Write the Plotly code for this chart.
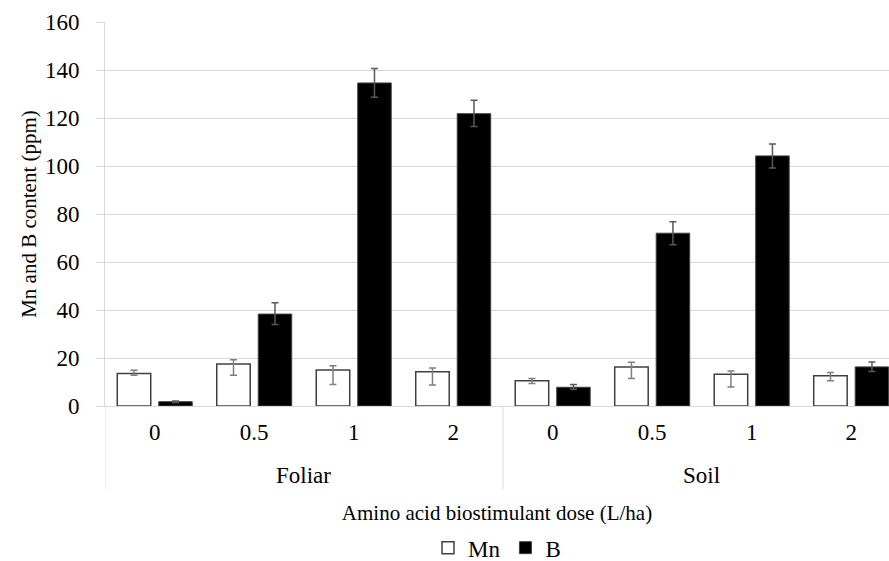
import plotly.graph_objects as go

groups = ["Foliar"] * 4 + ["Soil"] * 4
doses = ["0", "0.5", "1", "2"] * 2

mn_values = [13.5, 17.5, 15.0, 14.3, 10.5, 16.3, 13.2, 12.6]
mn_err_plus = [1.4, 1.8, 1.8, 1.5, 1.0, 1.9, 1.4, 1.4]
mn_err_minus = [0.7, 4.7, 6.0, 5.5, 1.1, 4.8, 5.3, 2.1]

b_values = [1.8, 38.3, 134.6, 121.8, 7.8, 72.0, 104.2, 16.3]
b_err_plus = [0.3, 4.7, 6.0, 5.6, 1.2, 4.8, 5.0, 2.0]
b_err_minus = [0.3, 4.3, 6.0, 5.3, 0.8, 4.8, 5.0, 1.9]

y_ticks = [0, 20, 40, 60, 80, 100, 120, 140, 160]

FONT = "Liberation Serif, Times New Roman, serif"
GRID = "#d9d9d9"

# unique category keys, labelled by dose
keys = [f"{g}|{d}" for g, d in zip(groups, doses)]
group_names = list(dict.fromkeys(groups))

fig = go.Figure()
fig.add_trace(go.Bar(
    x=keys, y=mn_values, name="Mn",
    marker=dict(color="white", line=dict(color="#404040", width=1.5)),
    error_y=dict(type="data", symmetric=False, array=mn_err_plus, arrayminus=mn_err_minus,
                 color="#7f7f7f", thickness=1.5, width=3.5),
))
fig.add_trace(go.Bar(
    x=keys, y=b_values, name="B",
    marker=dict(color="black", line=dict(color="#404040", width=1)),
    error_y=dict(type="data", symmetric=False, array=b_err_plus, arrayminus=b_err_minus,
                 color="#595959", thickness=1.5, width=3.5),
))

# group labels and dividers
bounds = []
for g in group_names:
    idx = [i for i, gg in enumerate(groups) if gg == g]
    center = sum(idx) / len(idx)
    fig.add_annotation(x=center, xref="x", y=-0.18, yref="paper", yanchor="middle",
                       text=g, showarrow=False, font=dict(family=FONT, size=23, color="black"))
    bounds.append(min(idx) - 0.5)
    bounds.append(max(idx) + 0.5)
for b in sorted(set(bounds)):
    fig.add_shape(type="line", xref="x", yref="paper", x0=b, x1=b, y0=0, y1=-0.216,
                  line=dict(color=GRID, width=1))

fig.update_layout(
    width=889, height=561,
    margin=dict(l=105, r=0, t=22, b=155),
    paper_bgcolor="white", plot_bgcolor="white",
    barmode="group", bargap=0.166, bargroupgap=0.193,
    font=dict(family=FONT, size=21, color="black"),
    showlegend=True,
    legend=dict(orientation="h", x=0.5, xanchor="center", xref="paper",
                y=0.062, yref="container", yanchor="top",
                font=dict(family=FONT, size=23), itemwidth=30, traceorder="normal"),
    xaxis=dict(
        type="category",
        range=[-0.5, 7.38],
        tickvals=keys, ticktext=doses,
        showline=True, linecolor=GRID, linewidth=1,
        ticks="", showgrid=False,
        ticklabelstandoff=5,
        tickfont=dict(family=FONT, size=23),
        title=dict(text="Amino acid biostimulant dose (L/ha)", standoff=61,
                   font=dict(family=FONT, size=21)),
    ),
    yaxis=dict(
        range=[0, 160], tickvals=y_ticks,
        showgrid=True, gridcolor=GRID, gridwidth=1,
        showline=True, linecolor=GRID, linewidth=1,
        ticks="outside", ticklen=8, tickcolor=GRID,
        ticklabelstandoff=12,
        tickfont=dict(family=FONT, size=23),
        zeroline=False,
        title=dict(text="Mn and B content (ppm)", standoff=2,
                   font=dict(family=FONT, size=21)),
    ),
)

fig.write_html("out.html")
